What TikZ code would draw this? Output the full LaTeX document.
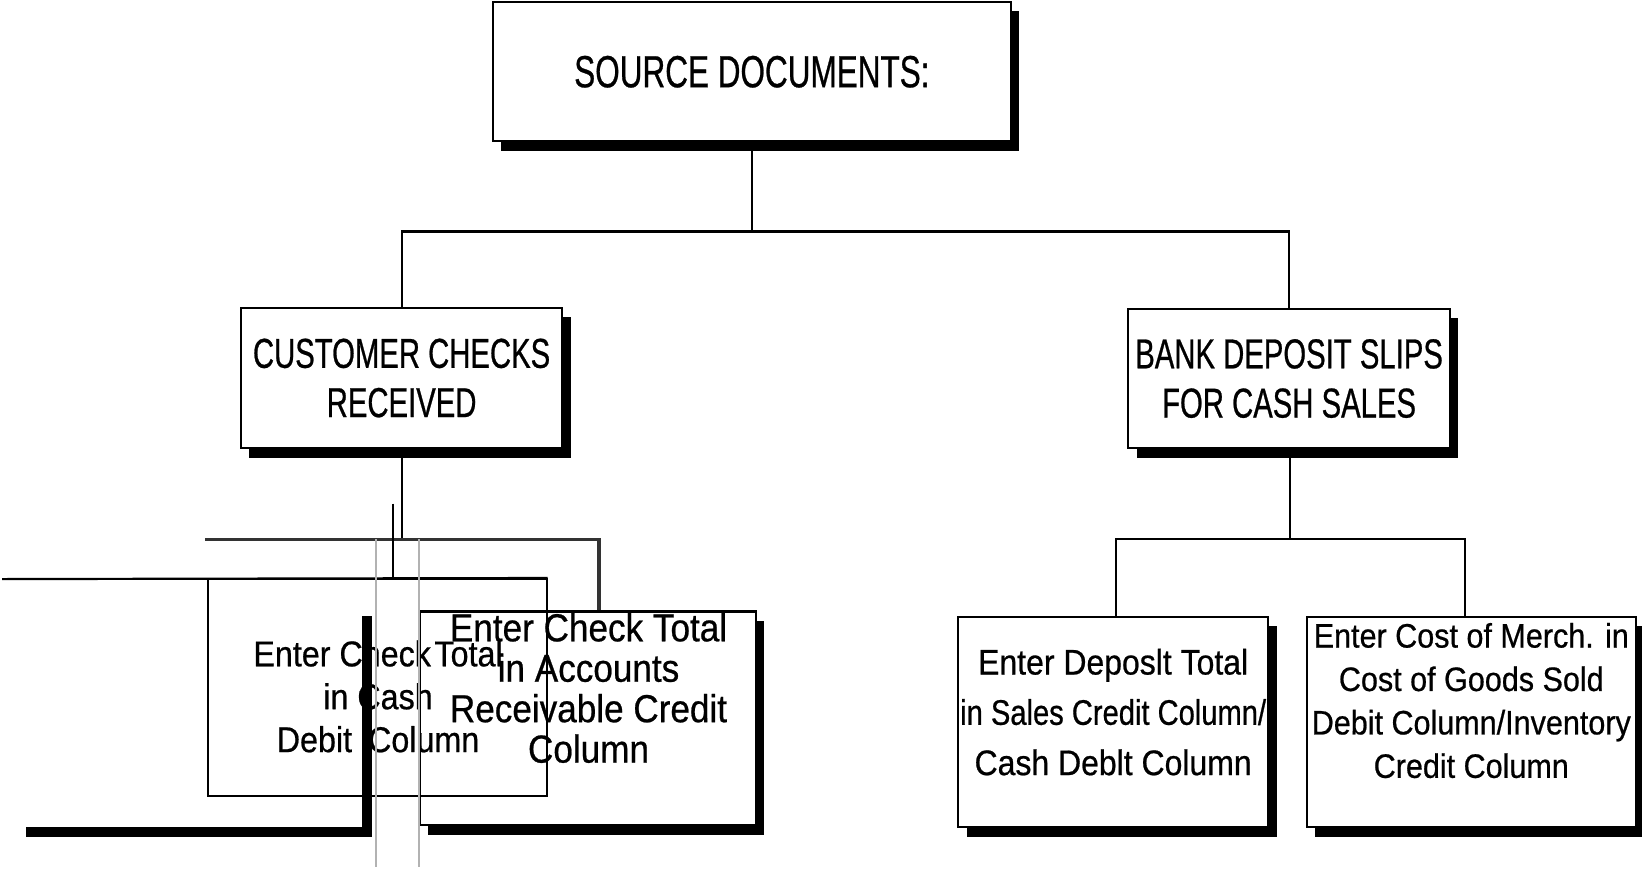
\documentclass[tikz,border=0pt]{standalone}
\usepackage{fontspec}
\setmainfont{Liberation Sans}
\newfontfamily\headfont{Liberation Sans}[FakeStretch=0.7, FakeBold=0.6]
\newfontfamily\bodyfont{Liberation Sans}[FakeStretch=0.9, FakeBold=0.6]
\newfontfamily\tightfont{Liberation Sans}[FakeStretch=0.82, FakeBold=0.6]
\newcommand{\srcfont}{\headfont\fontsize{12.8}{15.7}\selectfont}
\newcommand{\levelfont}{\headfont\fontsize{11.9}{14}\selectfont}
\newlength{\px}
\setlength{\px}{0.01047cm}
\usepackage{tikz}
\usetikzlibrary{positioning}
\usetikzlibrary{shadows}

\tikzset{
  docbox/.style={draw, line width=0.62pt, fill=white, align=center, inner xsep=1pt,
    drop shadow={shadow xshift=0.084cm, shadow yshift=-0.094cm, fill=black, opacity=1}},
  entry/.style={align=center, inner sep=0pt}
}

\begin{document}
\begin{tikzpicture}[x=0.01047cm, y=-0.01047cm, line width=0.62pt]
\useasboundingbox (0,0) rectangle (1568,829);

% Source documents
\node[docbox, minimum width=495*\px, minimum height=133*\px, font=\srcfont] (src) at (718,68.5) {SOURCE DOCUMENTS:};

% Second level
\node[docbox, minimum width=307*\px, minimum height=134*\px, font=\levelfont] (cust) at (383.5,361) {CUSTOMER CHECKS\\RECEIVED};
\node[docbox, minimum width=307*\px, minimum height=133*\px, font=\levelfont] (bank) at (1231,361.5) {BANK DEPOSIT SLIPS\\FOR CASH SALES};

% Entries for bank deposit slips
\node[docbox, minimum width=296*\px, minimum height=201*\px] (deposit) at (1063,689.5) {};
\node[docbox, minimum width=314*\px, minimum height=201*\px] (cogs) at (1405,689.5) {};
\node[entry, font=\bodyfont\fontsize{10.1}{14.3}\selectfont] (deposittxt) at (1063,680) {Enter Deposlt Total\\{\tightfont in Sales Credit Column/}\\Cash Deblt Column};
\node[entry, font=\bodyfont\fontsize{9.65}{12.35}\selectfont] (cogstxt) at (1405,669) {Enter Cost of Merch. in\\Cost of Goods Sold\\Debit Column/Inventory\\Credit Column};

% Entries for customer checks
\node[docbox, minimum width=321*\px, minimum height=204*\px] (accrec) at (561.5,686) {};
\node[draw, minimum width=323*\px, minimum height=207*\px] (cash) at (360.5,656.5) {};
\node[entry, font=\bodyfont\fontsize{11.1}{11.5}\selectfont] (accrectxt) at (562,657) {Enter Check Total\\in Accounts\\Receivable Credit\\Column};
\node[entry, font=\bodyfont\fontsize{10.2}{12.2}\selectfont] (cashtxt) at (361,665) {Enter Check\hspace{1pt}Total\\in Cash\\Debit \hspace{2pt}Column};

% Connections from source documents
\coordinate (hub) at (718,221);
\draw (src.south) -- (hub);
\draw (cust.north) |- (hub) -| (bank.north);

% Connections from bank deposit slips
\coordinate (bankhub) at (1232,515);
\coordinate (depdrop) at (1066,515);
\coordinate (cogsdrop) at (1399,515);
\draw (bank.south -| bankhub) -- (bankhub);
\draw (depdrop |- deposit.north) -- (depdrop) -- (cogsdrop) -- (cogsdrop |- cogs.north);

% Connections from customer checks
\coordinate (custhub) at (383.5,515);
\coordinate (busleft) at (196,515);
\coordinate (accdrop) at (572,515);
\coordinate (stray) at (375,481);
\coordinate (stub) at (2,553);
\draw (cust.south) -- (custhub);
\draw[line width=1pt, black!80] (busleft) -- (accdrop) -- (accdrop |- accrec.north);
\draw (stray) -- (stray |- cash.north);
\draw (stub) -- (cash.north east);

% Misplaced shadow and guide lines
\fill (346,588) rectangle (355,799);
\fill (25,790) rectangle (355,799);
\foreach \x in {359,400} {
    \draw[gray!60, line width=0.4pt] (\x,515) -- (\x,828);
}

\end{tikzpicture}
\end{document}
